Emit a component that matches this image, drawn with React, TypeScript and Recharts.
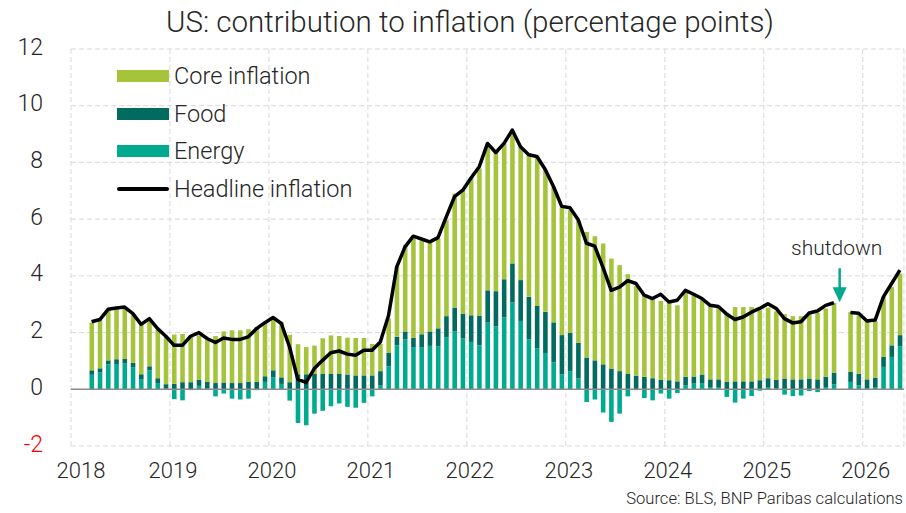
import React from "react";
import {
  ComposedChart,
  Bar,
  Line,
  XAxis,
  YAxis,
  CartesianGrid,
  ReferenceLine,
  ReferenceDot,
  Legend,
} from "recharts";

// monthly, Mar 2018 .. May 2026 (Oct 2025 missing: shutdown)
const firstMonth = 2; // slot index of Mar 2018 counted from Jan 2018
const months = Array.from({ length: 99 }, (_, i) => {
  const m = firstMonth + i;
  return `${2018 + Math.floor(m / 12)}-${String((m % 12) + 1).padStart(2, "0")}`;
});

// contributions, percentage points
const energy = [
  0.51, 0.59, 0.88, 0.89, 0.92, 0.78, 0.36, 0.67, 0.22, 0.02,
  -0.35, -0.39, -0.03, 0.12, 0.02, -0.25, -0.15, -0.33, -0.36, -0.33, -0.03, 0.26,
  0.42, 0.19, -0.4, -1.19, -1.27, -0.86, -0.76, -0.6, -0.5, -0.62, -0.65, -0.48,
  -0.25, 0.13, 0.81, 1.55, 1.76, 1.49, 1.47, 1.53, 1.52, 1.84, 2.05, 1.79,
  1.67, 1.55, 2.35, 2.22, 2.54, 3.07, 2.41, 1.76, 1.45, 1.28, 0.95, 0.53,
  0.64, 0.38, -0.45, -0.36, -0.82, -1.15, -0.86, -0.25, -0.03, -0.31, -0.39, -0.15,
  -0.33, -0.13, 0.14, 0.2, 0.22, 0.08, 0.08, -0.27, -0.47, -0.33, -0.24, -0.05,
  0.08, 0.02, -0.19, -0.24, -0.22, -0.06, -0.1, 0.08, 0.18, null, 0.26, 0.14,
  0.02, 0.08, 0.79, 1.14, 1.52,
];
const food = [
  0.16, 0.15, 0.14, 0.17, 0.15, 0.15, 0.17, 0.14, 0.17, 0.16,
  0.19, 0.25, 0.25, 0.21, 0.24, 0.22, 0.24, 0.22, 0.22, 0.26, 0.26, 0.2,
  0.25, 0.23, 0.25, 0.53, 0.53, 0.54, 0.54, 0.54, 0.54, 0.52, 0.49, 0.49,
  0.49, 0.51, 0.47, 0.3, 0.28, 0.32, 0.47, 0.51, 0.63, 0.74, 0.83, 0.88,
  0.94, 1.05, 1.14, 1.24, 1.34, 1.37, 1.44, 1.5, 1.49, 1.45, 1.41, 1.38,
  1.35, 1.26, 1.12, 1.02, 0.88, 0.73, 0.64, 0.54, 0.48, 0.44, 0.39, 0.34,
  0.32, 0.28, 0.3, 0.25, 0.3, 0.27, 0.27, 0.26, 0.28, 0.28, 0.28, 0.32,
  0.31, 0.31, 0.38, 0.35, 0.35, 0.38, 0.35, 0.36, 0.4, null, 0.35, 0.41,
  0.33, 0.33, 0.35, 0.41, 0.39,
];
const core = [
  1.68, 1.7, 1.77, 1.76, 1.83, 1.68, 1.73, 1.63, 1.71, 1.67,
  1.74, 1.7, 1.63, 1.57, 1.49, 1.66, 1.8, 1.86, 1.86, 1.86, 1.94, 1.86,
  1.83, 1.96, 1.67, 1.06, 0.96, 1.0, 1.26, 1.36, 1.34, 1.3, 1.32, 1.32,
  1.11, 0.96, 1.22, 2.47, 3.04, 3.57, 3.3, 3.14, 3.17, 3.38, 4.02, 4.35,
  4.88, 5.19, 5.12, 4.92, 4.79, 4.64, 4.7, 5.06, 5.28, 5.0, 4.78, 4.5,
  4.33, 4.32, 4.43, 4.38, 4.26, 3.88, 3.74, 3.52, 3.16, 2.88, 2.85, 2.78,
  2.74, 2.68, 2.96, 2.87, 2.64, 2.58, 2.53, 2.44, 2.62, 2.62, 2.62, 2.47,
  2.49, 2.42, 2.27, 2.23, 2.23, 2.31, 2.34, 2.41, 2.47, null, 2.11, 2.06,
  2.03, 2.0, 2.12, 2.06, 2.17,
];
const headline = [
  2.38, 2.46, 2.82, 2.87, 2.9, 2.67, 2.29, 2.49, 2.14, 1.87,
  1.55, 1.55, 1.87, 2.0, 1.79, 1.65, 1.81, 1.76, 1.76, 1.85, 2.14, 2.35,
  2.53, 2.32, 1.49, 0.35, 0.24, 0.73, 1.02, 1.29, 1.35, 1.24, 1.2, 1.38,
  1.38, 1.67, 2.6, 4.32, 5.02, 5.4, 5.3, 5.2, 5.35, 6.08, 6.79, 7.02,
  7.45, 7.85, 8.67, 8.35, 8.67, 9.14, 8.55, 8.27, 8.21, 7.75, 7.15, 6.45,
  6.4, 5.98, 5.15, 5.05, 4.3, 3.49, 3.6, 3.83, 3.73, 3.32, 3.2, 3.35,
  3.08, 3.14, 3.49, 3.35, 3.2, 2.96, 2.92, 2.65, 2.46, 2.55, 2.72, 2.85,
  3.02, 2.85, 2.49, 2.34, 2.38, 2.69, 2.76, 2.96, 3.05, null, 2.71, 2.68,
  2.41, 2.44, 3.26, 3.73, 4.2,
];

const years = [2018, 2019, 2020, 2021, 2022, 2023, 2024, 2025, 2026];
const yTicks = [-2, 0, 2, 4, 6, 8, 10, 12];

const legendItems = [
  { name: "Core inflation", color: "#a6c43b", kind: "bar" },
  { name: "Food", color: "#006b5e", kind: "bar" },
  { name: "Energy", color: "#00aa8e", kind: "bar" },
  { name: "Headline inflation", color: "#000000", kind: "line" },
];

const data = months.map((month, i) => ({
  month,
  x: firstMonth + i + 0.5,
  energy: energy[i],
  food: food[i],
  core: core[i],
  headline: headline[i],
}));

const FONT = "Roboto, 'Liberation Sans', Arial, sans-serif";
const INK = "#262626";

const XTick = (props: any) => {
  const { x, payload } = props;
  const shift = payload.value === 0 ? 10 : 3;
  return (
    <text x={x + shift} y={478} textAnchor="middle" fontSize={22} fill={INK} fontWeight={300}>
      {2018 + payload.value / 12}
    </text>
  );
};

const YTick = (props: any) => {
  const { y, payload } = props;
  return (
    <text
      x={43}
      y={y + 5.5}
      textAnchor="end"
      fontSize={23}
      fontWeight={300}
      fill={payload.value < 0 ? "#ff0000" : INK}
    >
      {payload.value}
    </text>
  );
};

const ShutdownMark = (props: any) => {
  const { cx, cy } = props;
  return (
    <g>
      <text x={cx - 3} y={cy - 47} textAnchor="middle" fontSize={21} fontWeight={300} fill={INK}>
        shutdown
      </text>
      <line x1={cx} y1={cy - 34} x2={cx} y2={cy - 14} stroke="#00aa8e" strokeWidth={2.5} />
      <polygon points={`${cx - 7},${cy - 15} ${cx + 7},${cy - 15} ${cx},${cy}`} fill="#00aa8e" />
    </g>
  );
};

const LegendBox = () => (
  <div style={{ fontFamily: FONT, fontWeight: 300 }}>
    {legendItems.map((it) => (
      <div key={it.name} style={{ display: "flex", alignItems: "center", height: 37.7 }}>
        {it.kind === "bar" ? (
          <div style={{ width: 52, height: 12, background: it.color }} />
        ) : (
          <div style={{ width: 52, height: 4, background: it.color, borderRadius: 2 }} />
        )}
        <span style={{ marginLeft: 5, fontSize: 23.5, color: INK, whiteSpace: "nowrap" }}>
          {it.name}
        </span>
      </div>
    ))}
  </div>
);

export default function App() {
  return (
    <div style={{ position: "absolute", left: 0, top: 0, width: 906, height: 513, background: "#fff", fontFamily: FONT }}>
      <ComposedChart
        width={906}
        height={513}
        data={data}
        stackOffset="sign"
        margin={{ top: 49, right: 2, bottom: 27, left: 0 }}
      >
        <CartesianGrid stroke="#d9d9d9" strokeDasharray="5 3" />
        <XAxis
          type="number"
          dataKey="x"
          domain={[0, 101]}
          ticks={years.map((y) => (y - 2018) * 12)}
          height={40}
          axisLine={false}
          tickLine={false}
          tick={<XTick />}
          allowDataOverflow
        />
        <YAxis
          domain={[-2, 12]}
          ticks={yTicks}
          width={71}
          axisLine={false}
          tickLine={false}
          tick={<YTick />}
          interval={0}
        />
        <Legend
          layout="vertical"
          align="center"
          verticalAlign="middle"
          content={<LegendBox />}
          wrapperStyle={{ left: 117, top: 57, width: 260 }}
        />
        <Bar dataKey="energy" stackId="s" fill="#00aa8e" barSize={4.6} isAnimationActive={false} />
        <Bar dataKey="food" stackId="s" fill="#006b5e" barSize={4.6} isAnimationActive={false} />
        <Bar dataKey="core" stackId="s" fill="#a6c43b" barSize={4.6} isAnimationActive={false} />
        <ReferenceLine y={0} stroke="#8c8c8c" strokeWidth={1.5} />
        <Line
          type="linear"
          dataKey="headline"
          stroke="#000"
          strokeWidth={3.5}
          strokeLinejoin="round"
          dot={false}
          connectNulls={false}
          isAnimationActive={false}
        />
        <ReferenceDot x={93.2} y={3.07} r={0} shape={<ShutdownMark />} />
      </ComposedChart>
      <svg
        width={906}
        height={513}
        style={{ position: "absolute", left: 0, top: 0, pointerEvents: "none" }}
      >
        <text x={470} y={32} textAnchor="middle" fontSize={29.5} fontWeight={300} fill={INK} fontFamily={FONT}>
          US: contribution to inflation (percentage points)
        </text>
        <text x={903} y={504} textAnchor="end" fontSize={16.6} fontWeight={300} fill={INK} fontFamily={FONT}>
          Source: BLS, BNP Paribas calculations
        </text>
      </svg>
    </div>
  );
}
